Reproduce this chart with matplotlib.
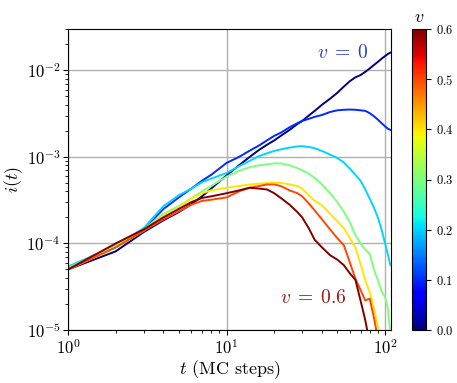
import numpy as np
import matplotlib
matplotlib.use("Agg")
import matplotlib.pyplot as plt
from matplotlib import cm, colors

plt.rcParams['font.family'] = 'serif'
plt.rcParams['font.serif'] = ['cmr10', 'DejaVu Serif']
plt.rcParams['mathtext.fontset'] = 'cm'
plt.rcParams['axes.formatter.use_mathtext'] = True

nan = np.nan
t = [1, 2, 3, 4, 5, 6, 7, 8, 10, 12, 14, 16, 18, 20, 22, 25, 28, 30, 33, 36,
     40, 45, 50, 55, 60, 65, 70, 75, 80, 85, 90, 95, 100, 104, 108]

v_values = [0.0, 0.1, 0.2, 0.3, 0.4, 0.5, 0.6]

i_v00 = [5.0e-5, 8.1e-5, 1.35e-4, 1.85e-4, 2.3e-4, 2.85e-4, 3.5e-4, 4.3e-4, 6.1e-4, 8.0e-4,
         1.0e-3, 1.2e-3, 1.38e-3, 1.55e-3, 1.75e-3, 2.05e-3, 2.4e-3, 2.6e-3, 3.0e-3, 3.4e-3,
         4.0e-3, 4.7e-3, 5.5e-3, 6.5e-3, 7.5e-3, 8.3e-3, 8.8e-3, 9.6e-3, 1.05e-2, 1.15e-2,
         1.25e-2, 1.36e-2, 1.46e-2, 1.54e-2, 1.6e-2]
i_v01 = [5.2e-5, 9.3e-5, 1.45e-4, 2.5e-4, 3.4e-4, 4.3e-4, 5.3e-4, 6.2e-4, 8.5e-4, 1.0e-3,
         1.18e-3, 1.35e-3, 1.55e-3, 1.75e-3, 1.9e-3, 2.2e-3, 2.45e-3, 2.6e-3, 2.75e-3, 2.9e-3,
         3.05e-3, 3.3e-3, 3.45e-3, 3.5e-3, 3.52e-3, 3.5e-3, 3.45e-3, 3.4e-3, 3.2e-3, 2.95e-3,
         2.7e-3, 2.45e-3, 2.25e-3, 2.12e-3, 2.05e-3]
i_v02 = [5.4e-5, 9.4e-5, 1.5e-4, 2.7e-4, 3.6e-4, 4.3e-4, 5.1e-4, 5.6e-4, 6.5e-4, 7.8e-4,
         9.0e-4, 1.02e-3, 1.1e-3, 1.17e-3, 1.22e-3, 1.28e-3, 1.32e-3, 1.33e-3, 1.3e-3, 1.26e-3,
         1.17e-3, 1.06e-3, 9.7e-4, 8.6e-4, 7.3e-4, 6.2e-4, 5.3e-4, 4.2e-4, 3.3e-4, 2.6e-4,
         2.0e-4, 1.45e-4, 1.0e-4, 7.5e-5, 5.6e-5]
i_v03 = [5.2e-5, 9.3e-5, 1.45e-4, 2.2e-4, 2.7e-4, 3.3e-4, 4.0e-4, 4.6e-4, 5.9e-4, 6.9e-4,
         7.6e-4, 8.0e-4, 8.2e-4, 8.4e-4, 8.4e-4, 8.0e-4, 7.4e-4, 7.0e-4, 6.4e-4, 5.7e-4,
         4.8e-4, 3.8e-4, 3.0e-4, 2.3e-4, 1.75e-4, 1.25e-4, 1.0e-4, 8.5e-5, 7.6e-5, 5.0e-5,
         3.8e-5, 2.8e-5, 2.4e-5, 1.8e-5, 9e-6]
i_v04 = [5.0e-5, 9.0e-5, 1.4e-4, 2.1e-4, 2.6e-4, 3.3e-4, 3.8e-4, 4.1e-4, 4.4e-4, 4.6e-4,
         4.8e-4, 4.9e-4, 5.0e-4, 5.05e-4, 5.0e-4, 4.8e-4, 4.6e-4, 4.3e-4, 3.6e-4, 3.1e-4,
         2.75e-4, 2.2e-4, 1.8e-4, 1.5e-4, 1.15e-4, 9.0e-5, 5.8e-5, 3.8e-5, 2.7e-5, 1.8e-5,
         1.1e-5, 7e-6, nan, nan, nan]
i_v05 = [5.0e-5, 9.0e-5, 1.4e-4, 1.9e-4, 2.35e-4, 2.8e-4, 3.1e-4, 3.2e-4, 3.4e-4, 4.0e-4,
         4.4e-4, 4.6e-4, 4.8e-4, 4.8e-4, 4.6e-4, 4.1e-4, 3.8e-4, 3.5e-4, 2.9e-4, 2.4e-4,
         1.9e-4, 1.45e-4, 1.15e-4, 9.5e-5, 6.0e-5, 3.9e-5, 2.9e-5, 2.2e-5, 2.3e-5, 1.4e-5,
         8e-6, nan, nan, nan, nan]
i_v06 = [5.0e-5, 1.0e-4, 1.45e-4, 2.0e-4, 2.5e-4, 3.0e-4, 3.35e-4, 3.5e-4, 3.8e-4, 4.1e-4,
         4.4e-4, 4.3e-4, 4.2e-4, 3.8e-4, 3.35e-4, 2.8e-4, 2.3e-4, 2.0e-4, 1.5e-4, 1.1e-4,
         9.0e-5, 7.3e-5, 6.5e-5, 5.6e-5, 4.5e-5, 3.8e-5, 2.2e-5, 1.3e-5, 7e-6, nan,
         nan, nan, nan, nan, nan]

series = [i_v00, i_v01, i_v02, i_v03, i_v04, i_v05, i_v06]

fig = plt.figure(figsize=(4.57, 3.83), dpi=100)
ax = fig.add_axes([68/457, 1-330/383, (391-68)/457, (330-29)/383])
cax = fig.add_axes([411.5/457, 1-330/383, 15/457, (330-29)/383])

norm = colors.Normalize(vmin=0.0, vmax=0.6)
cmap = plt.get_cmap('jet')

for v, vals in zip(v_values, series):
    ax.plot(t, vals, color=cmap(norm(v)), lw=1.4)

ax.set_xscale('log')
ax.set_yscale('log')
ax.set_xlim(1, 109)
ax.set_ylim(1e-5, 3e-2)
ax.grid(True, which='major', color='#b0b0b0', lw=1.0)
ax.tick_params(labelsize=12, pad=2)
ax.set_xlabel(r'$t$ (MC steps)', fontsize=13, labelpad=1)
ax.set_ylabel(r'$i(t)$', fontsize=13, labelpad=1)

ax.text(54, 0.0157, r'$v\;=\;0$', color='#2a3cc0', fontsize=14, ha='center', va='center')
ax.text(35.6, 2.34e-5, r'$v\;=\;0.6$', color='#961818', fontsize=14, ha='center', va='center')

sm = cm.ScalarMappable(norm=norm, cmap=cmap)
cb = fig.colorbar(sm, cax=cax, ticks=[0.0, 0.1, 0.2, 0.3, 0.4, 0.5, 0.6])
cb.ax.tick_params(labelsize=9)
cb.ax.set_title(r'$v$', fontsize=13, pad=5)

fig.savefig('out.png', dpi=100)
